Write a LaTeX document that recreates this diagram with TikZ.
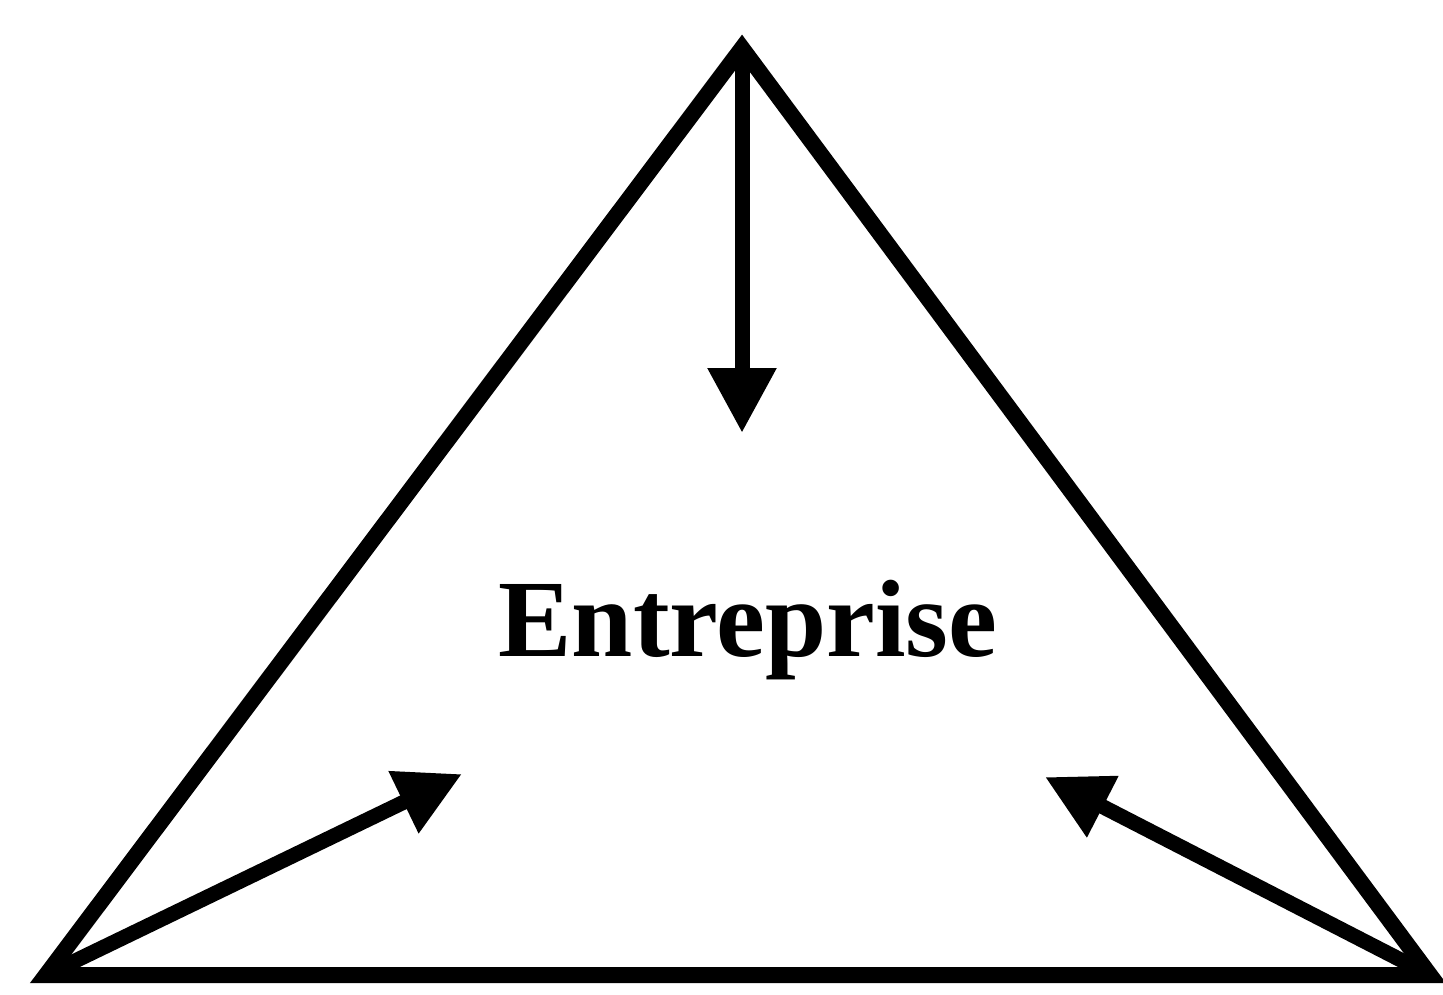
\documentclass[tikz,border=0pt]{standalone}
\usepackage{fontspec}
\setmainfont{Liberation Serif}
\usetikzlibrary{arrows.meta}
\begin{document}
\begin{tikzpicture}[x=1pt,y=-1pt,
  edge/.style={line width=16pt,line join=miter,miter limit=10},
  push/.style={line width=15pt,-{Triangle[length=65pt,width=65pt]}}]
\useasboundingbox (0,0) rectangle (1443,995);
\coordinate (A) at (742,48);
\coordinate (B) at (46,975);
\coordinate (C) at (1430,975);
\draw[edge] (A) -- (B) -- (C) -- cycle;
\coordinate (ta) at (742,433);
\coordinate (la) at (462,774);
\coordinate (ra) at (1045,777);
\draw[push] (A) -- (ta);
\draw[push] (B) -- (la);
\draw[push] (C) -- (ra);
\node[anchor=base,inner sep=0pt,font=\fontsize{110}{120}\selectfont\bfseries] (ent) at (748,656) {Entreprise};
\end{tikzpicture}
\end{document}
